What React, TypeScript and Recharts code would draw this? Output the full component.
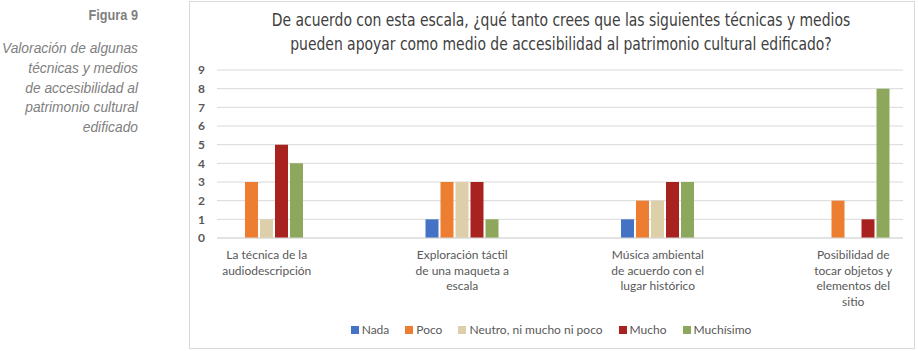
import React from "react";
import { BarChart, Bar, XAxis, YAxis, CartesianGrid } from "recharts";

// Categories (line breaks as in the original axis labels)
const categories = [
  "La técnica de la\naudiodescripción",
  "Exploración táctil\nde una maqueta a\nescala",
  "Música ambiental\nde acuerdo con el\nlugar histórico",
  "Posibilidad de\ntocar objetos y\nelementos del\nsitio",
];

// Number of answers per rating
const nada = [0, 1, 1, 0];
const poco = [3, 3, 2, 2];
const neutro = [1, 3, 2, 0];
const mucho = [5, 3, 3, 1];
const muchisimo = [4, 1, 3, 8];

const yTicks = [0, 1, 2, 3, 4, 5, 6, 7, 8, 9];

const series = [
  { key: "nada", name: "Nada", color: "#4472C4", values: nada },
  { key: "poco", name: "Poco", color: "#ED7D31", values: poco },
  { key: "neutro", name: "Neutro, ni mucho ni poco", color: "#DCCFAA", values: neutro },
  { key: "mucho", name: "Mucho", color: "#A8221F", values: mucho },
  { key: "muchisimo", name: "Muchísimo", color: "#8DA75D", values: muchisimo },
];

const captionLines = [
  "Valoración de algunas",
  "técnicas y medios",
  "de accesibilidad al",
  "patrimonio cultural",
  "edificado",
];

const titleLines = [
  "De acuerdo con esta escala, ¿qué tanto crees que las siguientes técnicas y medios",
  "pueden apoyar como medio de accesibilidad al patrimonio cultural edificado?",
];

const chartData = categories.map((name, i) => {
  const row: Record<string, string | number> = { name };
  series.forEach((s) => {
    row[s.key] = s.values[i];
  });
  return row;
});

const arial = "'Liberation Sans', Arial, sans-serif";
const condensed = "'DejaVu Sans Condensed', 'DejaVu Sans', sans-serif";
const body = "Lato, 'Noto Sans', sans-serif";

function CategoryTick(props: any) {
  const { x, y, payload } = props;
  const lines = String(payload.value).split("\n");
  return (
    <text x={x} y={y} textAnchor="middle" fill="#595959" fontSize={12} fontFamily={body}>
      {lines.map((line, i) => (
        <tspan key={i} x={x} dy={i === 0 ? 21 : 15.7}>
          {line}
        </tspan>
      ))}
    </text>
  );
}

export default function App() {
  return (
    <div
      style={{
        position: "absolute",
        left: 0,
        top: 0,
        width: 918,
        height: 351,
        background: "#ffffff",
        overflow: "hidden",
      }}
    >
      {/* Left caption */}
      <div
        style={{
          position: "absolute",
          left: -62,
          top: 6,
          width: 200,
          textAlign: "right",
          fontFamily: arial,
          fontWeight: "bold",
          fontSize: 15,
          color: "#7f7f7f",
          transform: "scaleX(0.85)",
          transformOrigin: "right top",
          whiteSpace: "nowrap",
        }}
      >
        Figura 9
      </div>
      <div
        style={{
          position: "absolute",
          left: -62,
          top: 38,
          width: 200,
          textAlign: "right",
          fontFamily: arial,
          fontStyle: "italic",
          fontSize: 15,
          lineHeight: "19.8px",
          color: "#808080",
          transform: "scaleX(0.92)",
          transformOrigin: "right top",
          whiteSpace: "nowrap",
        }}
      >
        {captionLines.map((l, i) => (
          <div key={i}>{l}</div>
        ))}
      </div>

      {/* Chart frame */}
      <div
        style={{
          position: "absolute",
          left: 189,
          top: 1,
          width: 724,
          height: 346,
          border: "1px solid #d9d9d9",
        }}
      />

      {/* Title */}
      <div
        style={{
          position: "absolute",
          left: 161,
          top: 8,
          width: 800,
          textAlign: "center",
          fontFamily: condensed,
          fontSize: 17,
          lineHeight: "24px",
          color: "#404040",
          transform: "scaleX(0.91)",
          transformOrigin: "center top",
          whiteSpace: "nowrap",
        }}
      >
        {titleLines.map((l, i) => (
          <div key={i}>{l}</div>
        ))}
      </div>

      <div style={{ position: "absolute", left: 0, top: 0 }}>
        <BarChart
          width={918}
          height={351}
          data={chartData}
          margin={{ top: 70, right: 15, bottom: 33, left: 187 }}
          barSize={13}
          barGap={2}
        >
          <CartesianGrid vertical={false} stroke="#d9d9d9" />
          <XAxis
            dataKey="name"
            interval={0}
            height={80}
            padding={{ left: -48, right: -48 }}
            axisLine={{ stroke: "#d9d9d9" }}
            tickLine={false}
            tickSize={0}
            tickMargin={0}
            tick={<CategoryTick />}
          />
          <YAxis
            width={30}
            domain={[0, 9]}
            ticks={yTicks}
            interval={0}
            axisLine={false}
            tickLine={false}
            tickMargin={6}
            tick={{ fill: "#595959", fontSize: 12, fontWeight: "bold", fontFamily: body }}
          />
          {series.map((s) => (
            <Bar key={s.key} dataKey={s.key} name={s.name} fill={s.color} isAnimationActive={false} />
          ))}
        </BarChart>
      </div>

      {/* Legend */}
      <div
        style={{
          position: "absolute",
          left: 189,
          top: 322,
          width: 724,
          display: "flex",
          justifyContent: "center",
          fontFamily: body,
          fontSize: 12,
          color: "#595959",
          gap: 16,
        }}
      >
        {series.map((s) => (
          <div key={s.key} style={{ display: "flex", alignItems: "center" }}>
            <span
              style={{ display: "inline-block", width: 8, height: 8, background: s.color, marginRight: 3 }}
            />
            <span>{s.name}</span>
          </div>
        ))}
      </div>
    </div>
  );
}
